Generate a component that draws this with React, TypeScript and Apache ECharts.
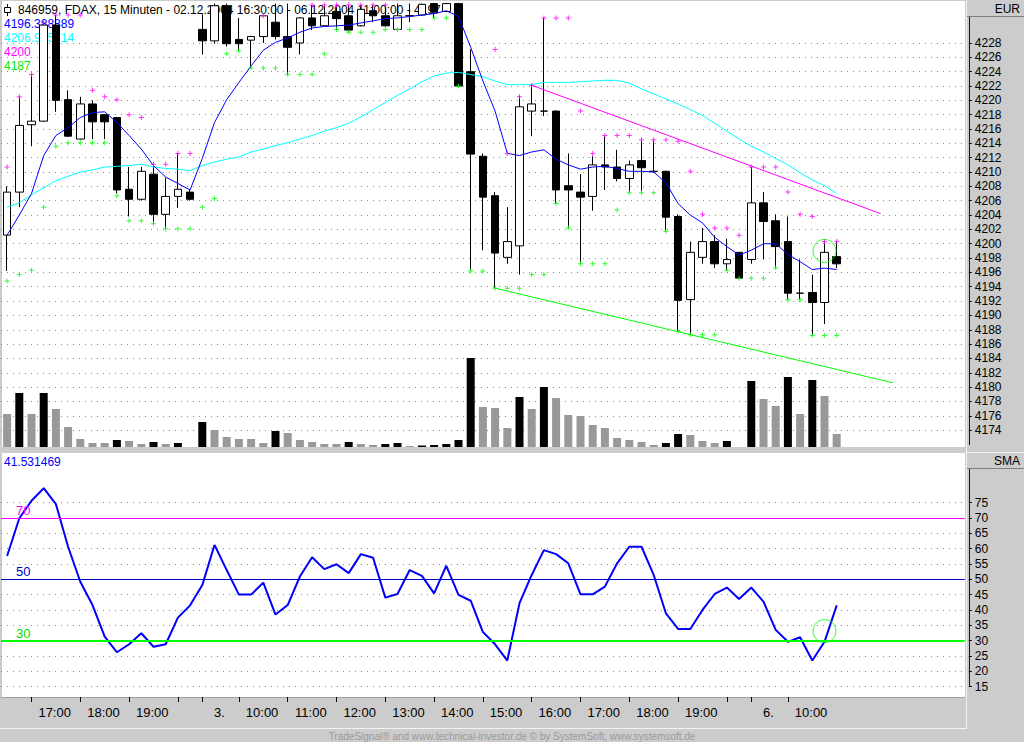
import { useEffect, useRef } from 'react';
import * as echarts from 'echarts';

const FONT = "'Liberation Sans Narrow', 'Arial Narrow', 'Liberation Sans', Arial, sans-serif";

const times = [
  '02.12 16:30', '16:45', '17:00', '17:15', '17:30', '17:45', '18:00', '18:15', '18:30', '18:45',
  '19:00', '19:15', '19:30', '19:45', '20:00', '20:15',
  '03.12 09:15', '09:30', '09:45', '10:00', '10:15', '10:30', '10:45', '11:00', '11:15', '11:30',
  '11:45', '12:00', '12:15', '12:30', '12:45', '13:00', '13:15', '13:30', '13:45', '14:00',
  '14:15', '14:30', '14:45', '15:00', '15:15', '15:30', '15:45', '16:00', '16:15', '16:30',
  '16:45', '17:00', '17:15', '17:30', '17:45', '18:00', '18:15', '18:30', '18:45', '19:00',
  '19:15', '19:30', '19:45', '20:00', '20:15',
  '06.12 09:15', '09:30', '09:45', '10:00', '10:15', '10:30', '10:45', '11:00',
];

const open = [
  4201.2, 4207.2, 4216.6, 4217.1, 4230.5, 4220.1, 4214.6, 4219.5, 4218.0, 4217.6,
  4207.6, 4206.2, 4209.7, 4204.1, 4206.6, 4207.2, 4229.9, 4228.3, 4233.2, 4228.5,
  4228.4, 4228.9, 4230.9, 4228.9, 4228.0, 4231.5, 4230.4, 4232.4, 4231.8, 4230.4,
  4232.5, 4231.8, 4229.9, 4231.8, 4231.9, 4233.5, 4232.4, 4233.5, 4224.0, 4212.2,
  4206.7, 4198.1, 4199.7, 4218.5, 4218.5, 4218.5, 4208.1, 4207.2, 4206.6, 4211.0,
  4210.7, 4209.1, 4211.6, 4210.1, 4210.1, 4203.8, 4192.2, 4198.1, 4200.3, 4197.2,
  4198.8, 4197.8, 4205.7, 4203.2, 4200.3, 4193.1, 4193.2, 4191.8, 4198.2,
];
const close = [
  4207.2, 4216.5, 4217.1, 4230.5, 4220.0, 4215.0, 4219.5, 4217.0, 4217.0, 4207.5,
  4206.2, 4210.1, 4204.1, 4206.6, 4207.6, 4206.2, 4228.3, 4233.2, 4227.9, 4227.9,
  4228.9, 4231.8, 4228.9, 4227.4, 4231.5, 4230.4, 4231.8, 4231.4, 4229.8, 4232.7,
  4231.8, 4230.4, 4231.8, 4231.8, 4233.4, 4232.3, 4233.5, 4222.0, 4212.5, 4206.5,
  4198.7, 4200.3, 4219.1, 4219.5, 4218.5, 4207.5, 4207.5, 4206.5, 4211.0, 4210.7,
  4209.1, 4211.0, 4210.6, 4210.1, 4203.7, 4192.1, 4198.8, 4200.3, 4197.2, 4197.8,
  4195.2, 4205.7, 4203.1, 4199.6, 4193.1, 4193.1, 4191.8, 4198.8, 4197.2,
];
const low = [
  4196.2, 4205.1, 4213.6, 4217.0, 4218.4, 4214.9, 4214.5, 4214.6, 4214.6, 4207.0,
  4203.8, 4206.0, 4202.8, 4202.1, 4205.0, 4206.0, 4226.4, 4227.9, 4227.5, 4226.9,
  4224.5, 4228.0, 4228.5, 4223.6, 4226.4, 4229.8, 4230.3, 4229.8, 4229.5, 4230.3,
  4230.9, 4230.3, 4229.9, 4230.9, 4231.8, 4231.5, 4232.3, 4222.0, 4196.2, 4199.1,
  4193.8, 4197.2, 4195.7, 4215.0, 4217.8, 4205.6, 4202.2, 4197.2, 4204.6, 4207.5,
  4208.7, 4207.2, 4207.2, 4209.9, 4201.8, 4187.8, 4187.3, 4197.2, 4196.6, 4196.3,
  4195.2, 4197.2, 4197.8, 4196.6, 4192.2, 4192.2, 4187.2, 4188.8, 4196.6,
];
const high = [
  4208.0, 4220.5, 4223.6, 4230.9, 4231.9, 4221.4, 4220.5, 4220.0, 4218.1, 4217.7,
  4210.7, 4210.7, 4211.0, 4209.2, 4212.6, 4207.6, 4232.0, 4233.5, 4233.5, 4231.5,
  4229.0, 4231.8, 4233.5, 4233.5, 4231.6, 4233.3, 4233.3, 4233.3, 4233.3, 4233.3,
  4233.3, 4233.3, 4233.5, 4233.5, 4233.5, 4233.6, 4233.6, 4233.6, 4227.1, 4212.6,
  4207.2, 4205.1, 4220.6, 4222.1, 4231.5, 4218.6, 4212.6, 4209.7, 4212.2, 4215.0,
  4213.1, 4211.6, 4214.5, 4214.5, 4210.2, 4204.1, 4200.3, 4202.2, 4201.2, 4200.7,
  4198.8, 4210.7, 4207.2, 4204.1, 4203.8, 4197.8, 4195.7, 4200.3, 4200.3,
];

const maFast = [
  4201.2, 4204.0, 4207.0, 4212.3, 4215.1, 4216.2, 4217.6, 4218.3, 4218.4, 4216.9,
  4215.1, 4213.2, 4210.9, 4209.3, 4208.4, 4207.5, 4211.9, 4216.9, 4220.1, 4222.5,
  4224.8, 4227.0, 4228.1, 4228.7, 4229.5, 4230.1, 4230.3, 4230.4, 4230.5, 4230.8,
  4231.1, 4231.4, 4231.5, 4231.7, 4231.9, 4232.1, 4232.5, 4231.7, 4227.4, 4222.7,
  4218.5, 4212.6, 4212.3, 4212.8, 4213.1, 4211.8, 4211.0, 4210.4, 4210.7, 4210.8,
  4210.5, 4210.1, 4210.1, 4210.0, 4208.5, 4205.6, 4204.0, 4202.9, 4200.9, 4199.6,
  4198.4, 4199.1, 4200.0, 4200.0, 4198.5, 4197.5, 4196.4, 4196.6, 4196.4,
];
const maSlow = [
  4205.1, 4205.7, 4206.8, 4207.8, 4208.8, 4209.4, 4210.0, 4210.3, 4210.7, 4210.8,
  4210.9, 4211.1, 4210.7, 4210.5, 4210.4, 4210.2, 4210.9, 4211.4, 4211.8, 4212.1,
  4212.8, 4213.2, 4213.7, 4214.1, 4214.6, 4215.1, 4215.7, 4216.2, 4216.8, 4217.7,
  4218.7, 4219.7, 4220.7, 4221.6, 4222.6, 4223.4, 4223.8, 4223.9, 4223.6, 4223.3,
  4222.7, 4222.2, 4222.2, 4222.2, 4222.5, 4222.5, 4222.5, 4222.6, 4222.7, 4222.8,
  4222.8, 4222.4, 4221.6, 4220.9, 4220.2, 4219.5, 4218.7, 4217.9, 4216.8, 4215.7,
  4214.6, 4213.6, 4212.8, 4211.9, 4211.0, 4209.9, 4208.9, 4208.1, 4207.0,
];

const channelHigh = [
  4210.7, 4220.5, 4223.6, 4230.9, 4231.9, 4231.9, 4231.9, 4221.4, 4220.5, 4220.1,
  4218.0, 4217.6, 4211.1, 4211.1, 4212.6, 4212.6, null, null, null, null,
  null, 4231.8, null, null, null, 4233.3, 4233.3, 4233.3, 4233.3, 4233.3,
  4233.3, 4233.3, null, null, null, null, null, null, null, null,
  4227.1, 4212.6, 4220.5, 4222.1, 4231.5, 4231.5, 4231.5, 4218.5, 4212.6, 4215.1,
  4215.1, 4215.1, 4214.5, 4214.5, 4214.5, 4214.3, 4210.1, 4204.1, 4202.2, 4202.2,
  4201.2, 4210.7, 4210.7, 4210.7, 4207.2, 4204.1, 4203.8, 4200.3, 4200.3,
];
const channelLow = [
  4194.8, 4195.7, 4196.3, 4205.1, 4213.6, 4214.1, 4214.1, 4214.1, 4214.1, 4206.7,
  4203.2, 4203.2, 4202.8, 4202.1, 4202.1, 4202.1, 4205.1, 4206.3, 4226.5, 4226.9,
  4224.5, 4224.5, 4224.5, 4223.6, 4223.6, 4223.6, 4226.5, 4229.9, 4229.5, 4229.5,
  4229.5, 4229.9, 4229.9, 4229.9, 4229.9, 4231.5, 4231.5, 4222.0, 4196.2, 4196.2,
  4193.8, 4193.8, 4193.8, 4195.7, 4195.7, 4205.6, 4202.2, 4197.2, 4197.2, 4197.2,
  4204.7, 4207.1, 4207.1, 4207.1, 4201.7, 4187.8, 4187.3, 4187.3, 4187.3, 4196.3,
  4195.2, 4195.2, 4195.2, 4196.6, 4192.2, 4192.2, 4187.2, 4187.2, 4187.2,
];

const volume = [
  3300, 5400, 3300, 5400, 3800, 2000, 800, 400, 400, 700,
  600, 300, 500, 300, 400, 0, 2500, 1700, 1000, 800,
  800, 400, 1600, 1400, 700, 500, 300, 300, 500, 300,
  200, 300, 400, 100, 150, 200, 300, 700, 8900, 4000,
  3900, 1900, 5000, 3800, 6000, 4900, 3200, 3100, 2200, 1900,
  900, 700, 500, 200, 400, 1300, 1200, 600, 400, 600,
  0, 6600, 4800, 4100, 7000, 3300, 6700, 5100, 1300,
];

const rsi = [
  57.6, 69.9, 75.6, 79.7, 74.5, 60.6, 49.2, 41.6, 31.3, 26.2,
  28.8, 32.4, 28.0, 28.8, 37.5, 41.5, 48.1, 61.2, 53.0, 45.0,
  45.0, 48.9, 38.5, 41.6, 50.9, 57.2, 53.3, 54.9, 52.0, 58.2,
  57.0, 44.0, 45.2, 53.0, 51.1, 45.4, 54.4, 44.9, 43.0, 32.8,
  28.8, 23.5, 42.2, 51.4, 59.5, 58.2, 55.2, 45.1, 45.1, 47.6,
  55.2, 60.6, 60.6, 51.4, 38.9, 33.8, 33.8, 40.0, 45.2, 47.3,
  43.6, 47.3, 42.7, 33.5, 29.6, 31.1, 23.5, 29.6, 41.5,
];

const priceTicks = [
  4174, 4176, 4178, 4180, 4182, 4184, 4186, 4188, 4190, 4192, 4194, 4196, 4198, 4200,
  4202, 4204, 4206, 4208, 4210, 4212, 4214, 4216, 4218, 4220, 4222, 4224, 4226, 4228,
];
const rsiTicks = [15, 20, 25, 30, 35, 40, 45, 50, 55, 60, 65, 70, 75];
const timeTickIdx = [2, 6, 10, 14, 16, 19, 23, 27, 31, 35, 39, 43, 47, 51, 55, 59, 61, 64];
const timeTickText = ['17:00', '18:00', '19:00', '', '3.', '10:00', '11:00', '12:00', '13:00', '14:00',
  '15:00', '16:00', '17:00', '18:00', '19:00', '', '6.', '10:00'];

const resistanceLine = [[43, 4222.1], [71.6, 4204.2]];
const supportLine = [[40, 4193.8], [72.6, 4180.6]];
const priceCircle = [[67, 4199.0]];
const rsiCircle = [[67, 33.1]];

const titleText = '846959, FDAX, 15 Minuten - 02.12.2004 16:30:00 - 06.12.2004 11:00:00 - 4197';
const legendValues = ['4196.388889', '4206.985714', '4200', '4187'];
const rsiValueText = '41.531469';
const footerText = 'TradeSignal\u00AE and www.technical-investor.de \u00A9 by SystemSoft, www.systemsoft.de';

const SLOTS = 79;
const PLUS = 'path://M2,0L3,0L3,2L5,2L5,3L3,3L3,5L2,5L2,3L0,3L0,2L2,2Z';
const GRID_LEFT = 1;
const GRID_RIGHT = 59.2;
const DOT: any = [1, 5];

function buildOption() {
  const slots = times.concat(new Array(SLOTS - times.length).fill(''));
  const ohlc = open.map((o, i) => [o, close[i], low[i], high[i]]);
  const volData = volume.map((v, i) => ({
    value: v,
    itemStyle: { color: i > 0 && v > volume[i - 1] ? '#000000' : '#999999' },
  }));
  const labelPos: number[] = [];
  const labelMap = new Map<string, string>();
  timeTickIdx.forEach((t, k) => {
    const txt = timeTickText[k];
    if (!txt) return;
    const next = timeTickIdx[k + 1] ?? t + 4;
    const p = (t + next) / 2 - 0.1;
    labelPos.push(p);
    labelMap.set(p.toFixed(2), txt);
  });

  const txt = (x: number, y: number, text: string, fill: string, size = 12, align = 'left', z = 1) => ({
    type: 'text', x, y, z, silent: true,
    style: { text, fill, font: `${size}px ${FONT}`, textAlign: align, textVerticalAlign: 'middle' },
  });

  return {
    animation: false,
    backgroundColor: '#cccccc',
    grid: [
      { left: GRID_LEFT, right: GRID_RIGHT, top: -3.333, height: 447.78 },
      { left: GRID_LEFT, right: GRID_RIGHT, top: 297, height: 150 },
      { left: GRID_LEFT, right: GRID_RIGHT, top: 456.6, height: 230 },
    ],
    xAxis: [
      { type: 'category', gridIndex: 0, data: slots, show: false, boundaryGap: true },
      { type: 'value', gridIndex: 0, min: -0.5, max: SLOTS - 0.5, show: false },
      { type: 'category', gridIndex: 1, data: slots, show: false, boundaryGap: true },
      { type: 'category', gridIndex: 2, data: slots, show: false, boundaryGap: true },
      {
        type: 'value', gridIndex: 2, min: -0.5, max: SLOTS - 0.5, position: 'bottom', offset: 10.4,
        splitLine: { show: false },
        axisLine: { show: true, onZero: false, lineStyle: { color: '#a0a0a0', width: 1 } },
        axisTick: { show: true, customValues: timeTickIdx, length: 5, lineStyle: { color: '#000000' } },
        axisLabel: {
          show: true, customValues: labelPos, margin: 9, color: '#000000', fontFamily: FONT, fontSize: 13,
          formatter: (v: number) => labelMap.get(Number(v).toFixed(2)) ?? '',
        },
      },
    ],
    yAxis: [
      {
        type: 'value', gridIndex: 0, position: 'right', offset: 4, min: 4172, max: 4234, interval: 2,
        axisLine: { show: true, onZero: false, lineStyle: { color: '#000000', type: 'dotted', width: 1 } },
        axisTick: { show: true, customValues: priceTicks, length: 3, lineStyle: { color: '#000000' } },
        axisLabel: {
          show: true, customValues: priceTicks, margin: 6, color: '#000000', fontFamily: FONT, fontSize: 12,
          formatter: (v: number) => String(v),
        },
        splitLine: { show: true, lineStyle: { color: '#8a8a8a', type: DOT, width: 1 } },
      },
      { type: 'value', gridIndex: 1, min: 0, max: 15000, show: false, splitLine: { show: false } },
      {
        type: 'value', gridIndex: 2, position: 'right', offset: 4, min: 15, max: 90, interval: 5,
        axisLine: { show: true, onZero: false, lineStyle: { color: '#000000', type: 'dotted', width: 1 } },
        axisTick: { show: true, customValues: rsiTicks, length: 3, lineStyle: { color: '#000000' } },
        axisLabel: {
          show: true, customValues: rsiTicks, margin: 6, color: '#000000', fontFamily: FONT, fontSize: 12,
          formatter: (v: number) => String(v),
        },
        splitLine: { show: true, lineStyle: { color: '#8a8a8a', type: DOT, width: 1 } },
      },
    ],
    series: [
      {
        type: 'bar', xAxisIndex: 2, yAxisIndex: 1, data: volData, barWidth: 8, z: 1, silent: true,
      },
      {
        type: 'candlestick', xAxisIndex: 0, yAxisIndex: 0, data: ohlc, barWidth: 8, z: 2, silent: true,
        itemStyle: {
          color: '#ffffff', color0: '#000000', borderColor: '#000000', borderColor0: '#000000',
          borderColorDoji: '#000000', borderWidth: 1,
        },
      },
      {
        type: 'line', xAxisIndex: 0, yAxisIndex: 0, data: maSlow, symbol: 'none', z: 3, silent: true,
        lineStyle: { color: '#00ffff', width: 1 },
      },
      {
        type: 'line', xAxisIndex: 0, yAxisIndex: 0, data: maFast, symbol: 'none', z: 3, silent: true,
        lineStyle: { color: '#0000ff', width: 1 },
      },
      {
        type: 'scatter', xAxisIndex: 0, yAxisIndex: 0, data: channelHigh, symbol: PLUS, symbolSize: 5, z: 4,
        silent: true, itemStyle: { color: '#ff00ff' },
      },
      {
        type: 'scatter', xAxisIndex: 0, yAxisIndex: 0, data: channelLow, symbol: PLUS, symbolSize: 5, z: 4,
        silent: true, itemStyle: { color: '#00ff00' },
      },
      {
        type: 'line', xAxisIndex: 1, yAxisIndex: 0, data: resistanceLine, symbol: 'none', z: 3, silent: true,
        lineStyle: { color: '#ff00ff', width: 1 },
      },
      {
        type: 'line', xAxisIndex: 1, yAxisIndex: 0, data: supportLine, symbol: 'none', z: 3, silent: true,
        lineStyle: { color: '#00ff00', width: 1 },
      },
      {
        type: 'scatter', xAxisIndex: 1, yAxisIndex: 0, data: priceCircle, symbol: 'circle', symbolSize: 23, z: 5,
        silent: true, itemStyle: { color: 'rgba(0,0,0,0)', borderColor: '#00ff00', borderWidth: 1 },
      },
      {
        type: 'line', xAxisIndex: 3, yAxisIndex: 2, data: rsi, symbol: 'none', z: 3, silent: true,
        lineStyle: { color: '#0000ff', width: 2 },
        markLine: {
          silent: true, symbol: ['none', 'none'], animation: false,
          label: { show: true, position: 'insideStartTop', distance: [15, 1], fontFamily: FONT, fontSize: 13 },
          data: [
            { yAxis: 70, lineStyle: { color: '#ff00ff', width: 1, type: 'solid' }, label: { formatter: '70', color: '#ff00ff' } },
            { yAxis: 50, lineStyle: { color: '#0000c8', width: 1, type: 'solid' }, label: { formatter: '50', color: '#0000c8' } },
            { yAxis: 30, lineStyle: { color: '#00ff00', width: 2, type: 'solid' }, label: { formatter: '30', color: '#00dd00' } },
          ],
        },
      },
      {
        type: 'scatter', xAxisIndex: 4, yAxisIndex: 2, data: rsiCircle, symbol: 'circle', symbolSize: 23, z: 5,
        silent: true, itemStyle: { color: 'rgba(0,0,0,0)', borderColor: '#00ff00', borderWidth: 1 },
      },
    ],
    graphic: {
      elements: [
        { type: 'rect', z: -10, silent: true, shape: { x: 2, y: 1, width: 963, height: 446 }, style: { fill: '#ffffff' } },
        { type: 'rect', z: -10, silent: true, shape: { x: 2, y: 453, width: 963, height: 244 }, style: { fill: '#ffffff' } },
        { type: 'line', z: 10, silent: true, shape: { x1: 0, y1: 728.5, x2: 966, y2: 728.5 }, style: { stroke: '#f2f2f2', lineWidth: 1 } },
        { type: 'line', z: 10, silent: true, shape: { x1: 966.5, y1: 0, x2: 966.5, y2: 729 }, style: { stroke: '#f2f2f2', lineWidth: 1 } },
        // EUR header
        { type: 'rect', z: 10, silent: true, shape: { x: 967, y: 0, width: 57, height: 16 }, style: { fill: '#cccccc' } },
        { type: 'line', z: 10, silent: true, shape: { x1: 967, y1: 16.5, x2: 1024, y2: 16.5 }, style: { stroke: '#808080', lineWidth: 1 } },
        txt(1020, 9, 'EUR', '#000000', 12, 'right', 11),
        // SMA header
        { type: 'rect', z: 10, silent: true, shape: { x: 967, y: 452, width: 57, height: 16 }, style: { fill: '#cccccc' } },
        { type: 'line', z: 10, silent: true, shape: { x1: 967, y1: 452.5, x2: 1024, y2: 452.5 }, style: { stroke: '#f2f2f2', lineWidth: 1 } },
        { type: 'line', z: 10, silent: true, shape: { x1: 967, y1: 468.5, x2: 1024, y2: 468.5 }, style: { stroke: '#808080', lineWidth: 1 } },
        txt(1020, 461, 'SMA', '#000000', 12, 'right', 11),
        // title icon
        { type: 'line', z: 1, silent: true, shape: { x1: 7.5, y1: 4, x2: 7.5, y2: 16 }, style: { stroke: '#000000', lineWidth: 1 } },
        { type: 'rect', z: 1, silent: true, shape: { x: 4.5, y: 7.5, width: 6, height: 5 }, style: { fill: '#ffffff', stroke: '#000000', lineWidth: 1 } },
        txt(18, 10, titleText, '#000000', 12),
        txt(4, 23.5, legendValues[0], '#0000ff', 12),
        txt(4, 37.5, legendValues[1], '#00ffff', 12),
        txt(4, 51.5, legendValues[2], '#ff00ff', 12),
        txt(4, 65.5, legendValues[3], '#00ee00', 12),
        txt(4, 462, rsiValueText, '#0000ff', 12),
        txt(512, 736, footerText, '#9a9a9a', 10, 'center', 1),
      ],
    },
  };
}

export default function App() {
  const ref = useRef<HTMLDivElement>(null);
  useEffect(() => {
    document.body.style.margin = '0';
    if (!ref.current) return;
    const chart = echarts.init(ref.current, null, { renderer: 'svg' });
    chart.setOption(buildOption() as any);
    return () => chart.dispose();
  }, []);
  return <div ref={ref} style={{ width: 1024, height: 742 }} />;
}
